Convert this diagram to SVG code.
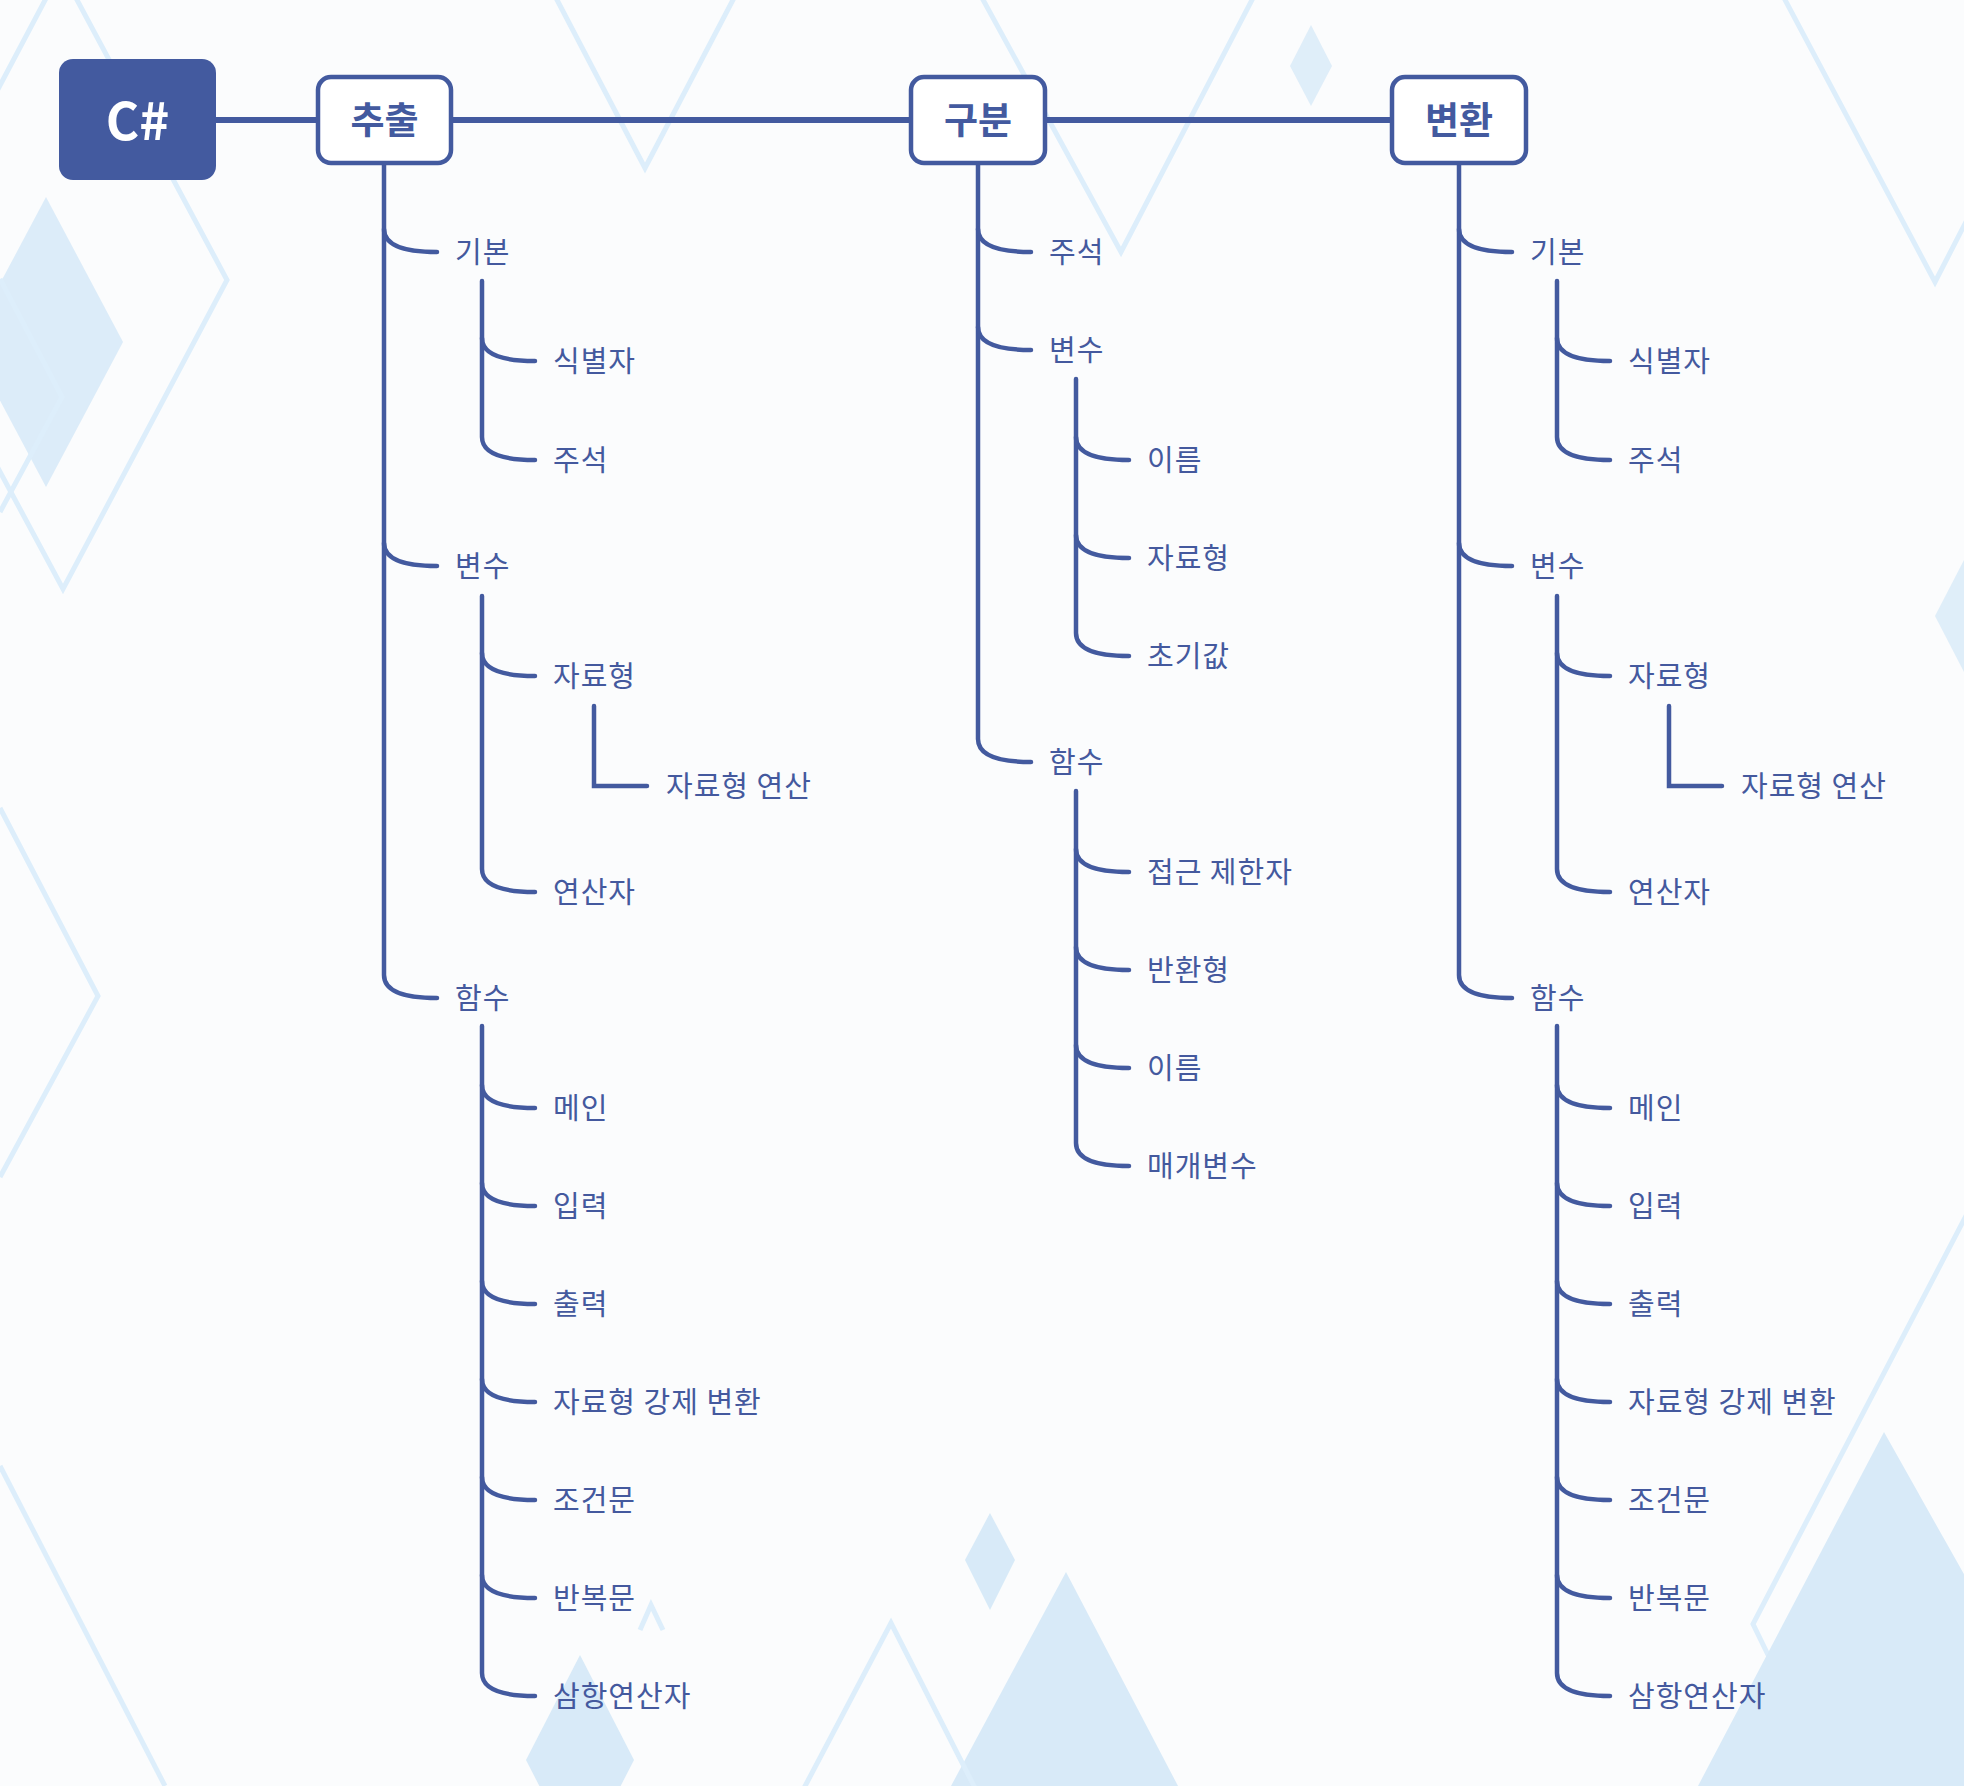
<svg xmlns="http://www.w3.org/2000/svg" width="1964" height="1786" viewBox="0 0 1964 1786">
<style>
.bgf{fill:#d8eaf8}
.bgl{fill:none;stroke:#ddeefb;stroke-width:5;stroke-linejoin:miter}
.conn{fill:none;stroke:#435a9f;stroke-width:4.5;stroke-linecap:round;stroke-linejoin:miter}
.top{fill:none;stroke:#435a9f;stroke-width:6}
.box{fill:#ffffff;stroke:#435a9f;stroke-width:4.5}
.title{font-family:"Noto Sans CJK KR","Noto Sans",sans-serif;font-weight:700;font-size:37px;fill:#435a9f;text-anchor:middle;dominant-baseline:central}
.root{font-family:"Noto Sans CJK KR","Noto Sans",sans-serif;font-weight:700;font-size:51px;fill:#ffffff;text-anchor:middle;dominant-baseline:central}
.lbl{font-family:"Noto Sans CJK KR","Noto Sans",sans-serif;font-size:29px;letter-spacing:1px;fill:#44599e;dominant-baseline:central}
</style>
<rect x="0" y="0" width="1964" height="1786" fill="#fbfcfd"/>
<g id="background">
<polygon class="bgl" points="61,-30 227,280 63,589 -103,280"/>
<polygon class="bgf" points="46,197 123,342 46,487 -31,342" opacity="0.9"/>
<polyline class="bgl" points="0,279 62,397 0,512"/>
<polyline class="bgl" points="0,808 98,996 0,1177"/>
<line class="bgl" x1="0" y1="1466" x2="165" y2="1786"/>
<polyline class="bgl" points="555,-4 645,168 735,-4"/>
<polyline class="bgl" points="981,-4 1121,252 1254,-4"/>
<polygon class="bgf" points="1311,25 1332,66 1311,106 1290,66" opacity="0.8"/>
<polyline class="bgl" points="1783,-4 1935,282 1970,214"/>
<polygon class="bgf" points="1935,616 1990,510 2045,616 1990,722" opacity="0.8"/>
<polyline class="bgl" points="1968,1212 1753,1624 1834,1790"/>
<polygon class="bgf" points="1884,1432 2083,1786 1698,1786"/>
<polygon class="bgf" points="990,1513 1015,1560 990,1610 965,1560"/>
<polygon class="bgf" points="1066,1572 1178,1786 951,1786"/>
<polyline class="bgl" points="803,1790 891,1623 976,1790"/>
<polyline class="bgl" points="640,1630 651,1605 663,1630" stroke-width="3"/>
<polygon class="bgf" points="580,1655 634,1760 580,1865 526,1760"/>
</g>
<g id="connectors">
<line class="top" x1="216" y1="120" x2="1392" y2="120"/>
<path class="conn" d="M384,163 V975 Q384,998 437,998"/>
<path class="conn" d="M384,229 Q384,252 437,252"/>
<path class="conn" d="M384,543 Q384,566 437,566"/>
<path class="conn" d="M482,281 V437 Q482,460 535,460"/>
<path class="conn" d="M482,338 Q482,361 535,361"/>
<path class="conn" d="M482,596 V869 Q482,892 535,892"/>
<path class="conn" d="M482,653 Q482,676 535,676"/>
<path class="conn" d="M594,706 V786 H647"/>
<path class="conn" d="M482,1026 V1673 Q482,1696 535,1696"/>
<path class="conn" d="M482,1085 Q482,1108 535,1108"/>
<path class="conn" d="M482,1183 Q482,1206 535,1206"/>
<path class="conn" d="M482,1281 Q482,1304 535,1304"/>
<path class="conn" d="M482,1379 Q482,1402 535,1402"/>
<path class="conn" d="M482,1477 Q482,1500 535,1500"/>
<path class="conn" d="M482,1575 Q482,1598 535,1598"/>
<path class="conn" d="M978,163 V739 Q978,762 1031,762"/>
<path class="conn" d="M978,229 Q978,252 1031,252"/>
<path class="conn" d="M978,327 Q978,350 1031,350"/>
<path class="conn" d="M1076,379 V633 Q1076,656 1129,656"/>
<path class="conn" d="M1076,437 Q1076,460 1129,460"/>
<path class="conn" d="M1076,535 Q1076,558 1129,558"/>
<path class="conn" d="M1076,791 V1143 Q1076,1166 1129,1166"/>
<path class="conn" d="M1076,849 Q1076,872 1129,872"/>
<path class="conn" d="M1076,947 Q1076,970 1129,970"/>
<path class="conn" d="M1076,1045 Q1076,1068 1129,1068"/>
<path class="conn" d="M1459,163 V975 Q1459,998 1512,998"/>
<path class="conn" d="M1459,229 Q1459,252 1512,252"/>
<path class="conn" d="M1459,543 Q1459,566 1512,566"/>
<path class="conn" d="M1557,281 V437 Q1557,460 1610,460"/>
<path class="conn" d="M1557,338 Q1557,361 1610,361"/>
<path class="conn" d="M1557,596 V869 Q1557,892 1610,892"/>
<path class="conn" d="M1557,653 Q1557,676 1610,676"/>
<path class="conn" d="M1669,706 V786 H1722"/>
<path class="conn" d="M1557,1026 V1673 Q1557,1696 1610,1696"/>
<path class="conn" d="M1557,1085 Q1557,1108 1610,1108"/>
<path class="conn" d="M1557,1183 Q1557,1206 1610,1206"/>
<path class="conn" d="M1557,1281 Q1557,1304 1610,1304"/>
<path class="conn" d="M1557,1379 Q1557,1402 1610,1402"/>
<path class="conn" d="M1557,1477 Q1557,1500 1610,1500"/>
<path class="conn" d="M1557,1575 Q1557,1598 1610,1598"/>
</g>
<g id="node-root"><rect x="59" y="59" width="157" height="121" rx="14" fill="#435a9f"/><text class="root" x="137.5" y="118">C#</text></g>
<g id="node-extract"><rect class="box" x="318" y="77" width="133" height="86" rx="13"/><text class="title" x="384.5" y="118">추출</text></g>
<g id="node-classify"><rect class="box" x="911" y="77" width="134" height="86" rx="13"/><text class="title" x="978" y="118">구분</text></g>
<g id="node-convert"><rect class="box" x="1392" y="77" width="134" height="86" rx="13"/><text class="title" x="1459" y="118">변환</text></g>
<g id="e-basic"><text class="lbl" x="455" y="250">기본</text></g>
<g id="e-ident"><text class="lbl" x="553" y="359">식별자</text></g>
<g id="e-comment"><text class="lbl" x="553" y="458">주석</text></g>
<g id="e-var"><text class="lbl" x="455" y="564">변수</text></g>
<g id="e-type"><text class="lbl" x="553" y="674">자료형</text></g>
<g id="e-typeop"><text class="lbl" x="666" y="784">자료형 연산</text></g>
<g id="e-oper"><text class="lbl" x="553" y="890">연산자</text></g>
<g id="e-func"><text class="lbl" x="455" y="996">함수</text></g>
<g id="e-main"><text class="lbl" x="553" y="1106">메인</text></g>
<g id="e-input"><text class="lbl" x="553" y="1204">입력</text></g>
<g id="e-output"><text class="lbl" x="553" y="1302">출력</text></g>
<g id="e-cast"><text class="lbl" x="553" y="1400">자료형 강제 변환</text></g>
<g id="e-cond"><text class="lbl" x="553" y="1498">조건문</text></g>
<g id="e-loop"><text class="lbl" x="553" y="1596">반복문</text></g>
<g id="e-tern"><text class="lbl" x="553" y="1694">삼항연산자</text></g>
<g id="c-comment"><text class="lbl" x="1049" y="250">주석</text></g>
<g id="c-var"><text class="lbl" x="1049" y="348">변수</text></g>
<g id="c-name"><text class="lbl" x="1147" y="458">이름</text></g>
<g id="c-type"><text class="lbl" x="1147" y="556">자료형</text></g>
<g id="c-init"><text class="lbl" x="1147" y="654">초기값</text></g>
<g id="c-func"><text class="lbl" x="1049" y="760">함수</text></g>
<g id="c-access"><text class="lbl" x="1147" y="870">접근 제한자</text></g>
<g id="c-ret"><text class="lbl" x="1147" y="968">반환형</text></g>
<g id="c-fname"><text class="lbl" x="1147" y="1066">이름</text></g>
<g id="c-param"><text class="lbl" x="1147" y="1164">매개변수</text></g>
<g id="v-basic"><text class="lbl" x="1530" y="250">기본</text></g>
<g id="v-ident"><text class="lbl" x="1628" y="359">식별자</text></g>
<g id="v-comment"><text class="lbl" x="1628" y="458">주석</text></g>
<g id="v-var"><text class="lbl" x="1530" y="564">변수</text></g>
<g id="v-type"><text class="lbl" x="1628" y="674">자료형</text></g>
<g id="v-typeop"><text class="lbl" x="1741" y="784">자료형 연산</text></g>
<g id="v-oper"><text class="lbl" x="1628" y="890">연산자</text></g>
<g id="v-func"><text class="lbl" x="1530" y="996">함수</text></g>
<g id="v-main"><text class="lbl" x="1628" y="1106">메인</text></g>
<g id="v-input"><text class="lbl" x="1628" y="1204">입력</text></g>
<g id="v-output"><text class="lbl" x="1628" y="1302">출력</text></g>
<g id="v-cast"><text class="lbl" x="1628" y="1400">자료형 강제 변환</text></g>
<g id="v-cond"><text class="lbl" x="1628" y="1498">조건문</text></g>
<g id="v-loop"><text class="lbl" x="1628" y="1596">반복문</text></g>
<g id="v-tern"><text class="lbl" x="1628" y="1694">삼항연산자</text></g>
</svg>
